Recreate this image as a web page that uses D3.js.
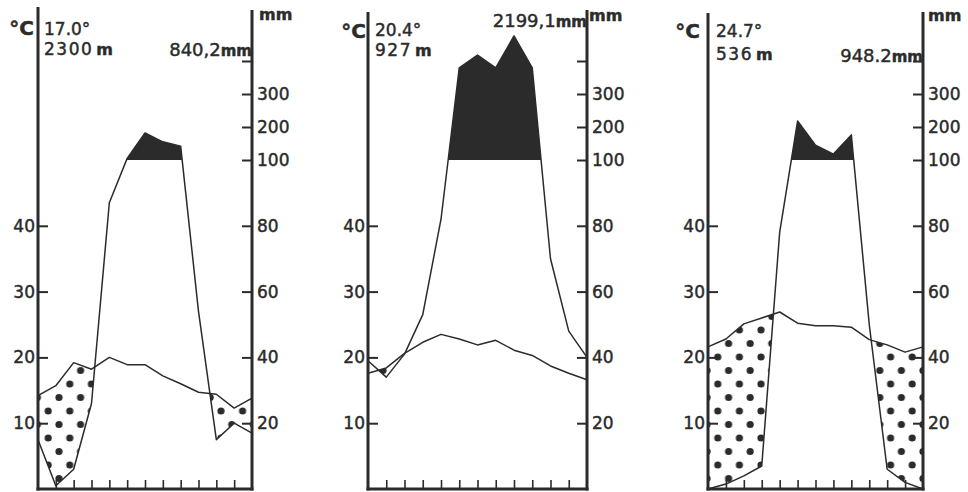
<!DOCTYPE html>
<html>
<head>
<meta charset="utf-8">
<script src="https://cdn.jsdelivr.net/npm/d3@7"></script>
<style>
  body { margin: 0; background: #fff; }
  svg text { font-family: "DejaVu Sans", "Liberation Sans", sans-serif; fill: #2b2b2b; stroke: #2b2b2b; stroke-width: 0.45px; }
</style>
</head>
<body>
<script>
// monthly values, read at the month ticks (13 points, Jan .. Jan)
var temp1 = [14.2, 15.7, 19.2, 18.2, 20.0, 18.9, 18.9, 17.2, 16.0, 14.7, 14.4, 12.3, 13.8];
var prec1 = [15, 1, 6, 26, 87, 105, 182, 155, 142, 54, 15, 20, 17];

var temp2 = [17.6, 18.4, 20.6, 22.3, 23.5, 22.8, 21.9, 22.6, 21.1, 20.3, 18.7, 17.6, 16.6];
var prec2 = [39, 34, 41, 53, 82, 379, 418, 379, 476, 379, 70, 48, 40];

var temp3 = [21.6, 22.8, 25.1, 26.0, 26.9, 25.2, 24.8, 24.8, 24.6, 22.7, 21.9, 20.8, 21.6];
var prec3 = [0, 1.5, 4, 7, 78, 218, 145, 118, 176, 50, 6, 2, 0];

var meanTemp = ["17.0°", "20.4°", "24.7°"];
var altitude = ["2300", "927", "536"];
var totalPrec = ["840,2", "2199,1", "948.2"];

var tempTicks = [10, 20, 30, 40];
var precTicks = [20, 40, 60, 80, 100, 200, 300, 400];
var precLabels = ["20", "40", "60", "80", "100", "200", "300", ""];
var monthTicks = [1, 2, 3, 4, 5, 6, 7, 8, 9, 10, 11];

var temps = [temp1, temp2, temp3];
var precs = [prec1, prec2, prec3];

// where each diagram sits on the page
var panels = [
    {L: 38,  R: 252, topL: 7,  topR: 10, cEnd: 34,  cY: 35, valX: 44,  t1Y: 35, t2Y: 55, totY: 56, mmX: 259, mmY: 20},
    {L: 368, R: 587, topL: 12, topR: 10, cEnd: 366, cY: 38, valX: 375, t1Y: 36, t2Y: 56, totY: 27, mmX: 589, mmY: 21},
    {L: 708, R: 923, topL: 13, topR: 12, cEnd: 700, cY: 38, valX: 716, t1Y: 37, t2Y: 60, totY: 62, mmX: 928, mmY: 21}
];

var width = 968, height = 492, base = 489;
var ink = "#2b2b2b";

var svg = d3.select("body").append("svg")
    .attr("width", width)
    .attr("height", height);

var defs = svg.append("defs");

// dotted fill for the dry season
var pat = defs.append("pattern")
    .attr("id", "dots")
    .attr("patternUnits", "userSpaceOnUse")
    .attr("width", 21.6)
    .attr("height", 27);
pat.append("circle").attr("cx", 5).attr("cy", 6).attr("r", 3.6).attr("fill", ink);
pat.append("circle").attr("cx", 15.8).attr("cy", 19.5).attr("r", 3.6).attr("fill", ink);

// 10 °C = 20 mm up to 100 mm, then 100 mm per 10 °C
var y = d3.scaleLinear().domain([0, 50]).range([base, 160]);
var yP = d3.scaleLinear().domain([0, 100, 500]).range([base, 160, 28]);

panels.forEach(function(p, k) {
    var temp = temps[k], prec = precs[k];
    var x = d3.scaleLinear().domain([0, 12]).range([p.L, p.R]);
    var g = svg.append("g");

    // clip: everything above the precipitation line
    defs.append("clipPath").attr("id", "abovePrec" + k)
        .append("path")
        .attr("d", d3.area()
            .x(function(d, i) { return x(i); })
            .y0(0)
            .y1(function(d) { return yP(d); })(prec));

    defs.append("clipPath").attr("id", "over100_" + k)
        .append("rect")
        .attr("x", p.L).attr("y", 0)
        .attr("width", p.R - p.L).attr("height", yP(100));

    // dry period: under the temperature line and above precipitation
    g.append("path")
        .attr("d", d3.area()
            .x(function(d, i) { return x(i); })
            .y0(base)
            .y1(function(d) { return y(d); })(temp))
        .attr("fill", "url(#dots)")
        .attr("clip-path", "url(#abovePrec" + k + ")");

    // very wet months (> 100 mm)
    g.append("path")
        .attr("d", d3.area()
            .x(function(d, i) { return x(i); })
            .y0(yP(100))
            .y1(function(d) { return yP(d); })(prec))
        .attr("fill", ink)
        .attr("clip-path", "url(#over100_" + k + ")");

    var line = d3.line().x(function(d, i) { return x(i); });

    g.append("path")
        .attr("d", line.y(function(d) { return y(d); })(temp))
        .attr("fill", "none").attr("stroke", ink).attr("stroke-width", 1.5)
        .attr("stroke-linejoin", "round");

    g.append("path")
        .attr("d", line.y(function(d) { return yP(d); })(prec))
        .attr("fill", "none").attr("stroke", ink).attr("stroke-width", 1.5)
        .attr("stroke-linejoin", "round");

    // axes
    g.append("g")
        .attr("transform", "translate(" + p.L + ",0)")
        .call(d3.axisLeft(y).tickValues(tempTicks).tickSize(-10).tickPadding(3))
        .call(function(a) { a.select(".domain").remove(); })
        .attr("font-size", 17).attr("font-family", null).attr("color", ink)
        .selectAll("line").attr("stroke-width", 2);

    g.append("g")
        .attr("transform", "translate(" + p.R + ",0)")
        .call(d3.axisRight(yP).tickValues(precTicks).tickSize(-10).tickPadding(5)
            .tickFormat(function(d, i) { return precLabels[i]; }))
        .call(function(a) { a.select(".domain").remove(); })
        .attr("font-size", 17).attr("font-family", null).attr("color", ink)
        .selectAll("line").attr("stroke-width", 2);

    g.append("g")
        .attr("transform", "translate(0," + base + ")")
        .call(d3.axisBottom(x).tickValues(monthTicks).tickSize(-9).tickFormat(""))
        .call(function(a) { a.select(".domain").remove(); })
        .attr("color", ink)
        .selectAll("line").attr("stroke-width", 1.6);

    g.append("line")
        .attr("x1", p.L).attr("x2", p.L)
        .attr("y1", p.topL).attr("y2", base + 1.5)
        .attr("stroke", ink).attr("stroke-width", 3);
    g.append("line")
        .attr("x1", p.R).attr("x2", p.R)
        .attr("y1", p.topR).attr("y2", base + 1.5)
        .attr("stroke", ink).attr("stroke-width", 3);
    g.append("line")
        .attr("x1", p.L - 1.5).attr("x2", p.R + 1.5)
        .attr("y1", base).attr("y2", base)
        .attr("stroke", ink).attr("stroke-width", 3);

    // header texts
    g.append("text")
        .attr("x", p.cEnd).attr("y", p.cY)
        .attr("text-anchor", "end")
        .attr("font-size", 20).attr("font-weight", "bold")
        .text("°C");

    g.append("text")
        .attr("x", p.valX).attr("y", p.t1Y)
        .attr("font-size", 17)
        .text(meanTemp[k]);

    var alt = g.append("text")
        .attr("x", p.valX).attr("y", p.t2Y)
        .attr("font-size", 17);
    alt.append("tspan").attr("letter-spacing", 1.5).text(altitude[k]);
    alt.append("tspan").attr("font-weight", "bold").attr("font-size", 16).attr("dx", 3).text("m");

    var tot = g.append("text")
        .attr("x", p.R).attr("y", p.totY)
        .attr("text-anchor", "end")
        .attr("font-size", 18);
    tot.append("tspan").text(totalPrec[k]);
    tot.append("tspan").attr("font-weight", "bold").attr("font-size", 15).text("mm");

    g.append("text")
        .attr("x", p.mmX).attr("y", p.mmY)
        .attr("font-size", 16).attr("font-weight", "bold")
        .text("mm");
});
</script>
</body>
</html>
